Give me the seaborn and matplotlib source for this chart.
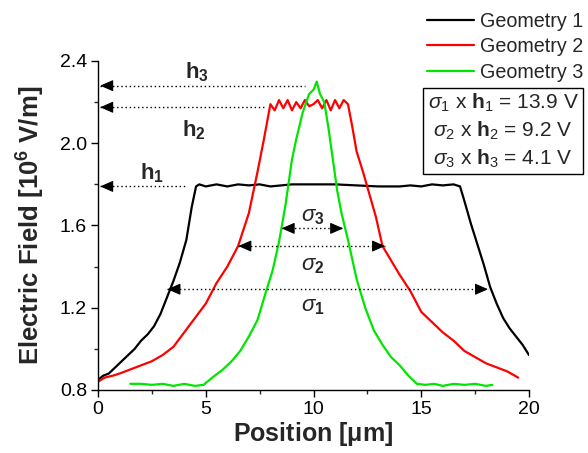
import matplotlib
matplotlib.use("Agg")
import matplotlib.pyplot as plt
import seaborn as sns
import pandas as pd
from matplotlib.ticker import MultipleLocator

# ---------------- data ----------------
g1_x = [0, 0.25, 0.5, 0.8, 1.1, 1.4, 1.7, 2.0, 2.3, 2.6, 2.9, 3.2, 3.5, 3.8, 4.1, 4.35, 4.55,
        4.7, 5.0, 5.5, 6.0, 6.5, 7.0, 7.5, 8.0, 9.0, 10.0, 11.0, 12.0, 13.0, 14.0, 14.5, 15.0,
        15.5, 16.0, 16.5, 16.8, 17.0, 17.3, 17.6, 17.9, 18.2, 18.5, 18.8, 19.1, 19.4, 19.7, 20.0]
g1_y = [0.85, 0.87, 0.88, 0.91, 0.94, 0.97, 1.00, 1.04, 1.07, 1.11, 1.17, 1.25, 1.33, 1.42, 1.53, 1.69, 1.79,
        1.80, 1.79, 1.80, 1.79, 1.80, 1.795, 1.80, 1.79, 1.80, 1.80, 1.80, 1.795, 1.79, 1.79, 1.795, 1.79,
        1.80, 1.795, 1.80, 1.79, 1.72, 1.61, 1.51, 1.41, 1.30, 1.22, 1.15, 1.10, 1.06, 1.02, 0.97]

g2_x = [0, 0.3, 0.7, 1.0, 1.5, 2.0, 2.5, 3.0, 3.5, 4.0, 4.5, 5.0, 5.5, 6.0, 6.5, 7.0, 7.4, 7.7,
        8.0, 8.2, 8.4, 8.6, 8.8, 9.0, 9.2, 9.4, 9.6, 9.8, 10.0, 10.2, 10.4, 10.6, 10.8, 11.0, 11.2,
        11.4, 11.6, 11.8, 12.0, 12.3, 12.6, 12.9, 13.2, 13.6, 14.0, 14.5, 15.0, 15.5, 16.0, 16.5,
        17.0, 17.5, 18.0, 18.5, 19.0, 19.5]
g2_y = [0.84, 0.86, 0.87, 0.88, 0.90, 0.92, 0.94, 0.97, 1.01, 1.08, 1.15, 1.22, 1.32, 1.40, 1.50, 1.66, 1.86, 2.02,
        2.19, 2.16, 2.21, 2.17, 2.21, 2.16, 2.20, 2.17, 2.21, 2.18, 2.19, 2.21, 2.17, 2.21, 2.16, 2.21, 2.17,
        2.21, 2.19, 2.08, 1.96, 1.86, 1.75, 1.64, 1.50, 1.43, 1.36, 1.28, 1.18, 1.13, 1.08, 1.04,
        0.99, 0.96, 0.93, 0.91, 0.89, 0.86]

g3_x = [1.5, 2.0, 2.5, 3.0, 3.5, 4.0, 4.5, 4.9, 5.3, 5.8, 6.2, 6.6, 7.0, 7.4, 7.8, 8.1, 8.4, 8.7,
        9.0, 9.2, 9.5, 9.8, 10.0, 10.15, 10.3, 10.5, 10.7, 10.9, 11.1, 11.3, 11.6, 12.0, 12.4, 12.8,
        13.2, 13.6, 14.0, 14.4, 14.8, 15.2, 15.6, 16.0, 16.5, 17.0, 17.5, 18.0, 18.3]
g3_y = [0.83, 0.83, 0.825, 0.83, 0.82, 0.83, 0.82, 0.825, 0.86, 0.90, 0.94, 0.99, 1.06, 1.14, 1.28, 1.38, 1.52, 1.70,
        1.92, 2.02, 2.15, 2.24, 2.26, 2.30, 2.24, 2.20, 2.07, 1.92, 1.77, 1.66, 1.53, 1.34, 1.20, 1.09,
        1.02, 0.96, 0.92, 0.87, 0.83, 0.825, 0.83, 0.82, 0.83, 0.825, 0.83, 0.82, 0.825]

series_names = ["Geometry 1", "Geometry 2", "Geometry 3"]
series_colors = ["#000000", "#ff0000", "#00e600"]

h_levels = [1.79, 2.175, 2.28]          # h1, h2, h3
h_line_ends = [4.1, 7.7, 9.6]
sigma_levels = [1.29, 1.50, 1.586]      # sigma1, sigma2, sigma3
sigma_left = [3.22, 6.51, 8.52]
sigma_right = [18.1, 13.32, 11.38]
products = ["13.9", "9.2", "4.1"]

# ---------------- figure ----------------
sns.set_theme(style="ticks")
plt.rcParams["font.family"] = ["Liberation Sans", "DejaVu Sans"]
plt.rcParams["mathtext.fontset"] = "custom"
plt.rcParams["mathtext.rm"] = "Liberation Sans"
plt.rcParams["mathtext.it"] = "Liberation Sans:italic"
plt.rcParams["mathtext.bf"] = "Liberation Sans:bold"

frames = []
for name, xs, ys in zip(series_names, [g1_x, g2_x, g3_x], [g1_y, g2_y, g3_y]):
    frames.append(pd.DataFrame({"Position": xs, "Field": ys, "Geometry": name}))
df = pd.concat(frames, ignore_index=True)

fig = plt.figure(figsize=(5.88, 4.53), dpi=100)
ax = fig.add_axes([98 / 588, 1 - 390 / 453, (529 - 98) / 588, (390 - 61) / 453])

sns.lineplot(data=df, x="Position", y="Field", hue="Geometry", hue_order=series_names,
             palette=series_colors, estimator=None, sort=False, linewidth=1.6, ax=ax)
handles, labels = ax.get_legend_handles_labels()
ax.get_legend().remove()

ax.set_xlim(0, 20)
ax.set_ylim(0.8, 2.4)
ax.xaxis.set_major_locator(MultipleLocator(5))
ax.xaxis.set_minor_locator(MultipleLocator(2.5))
ax.yaxis.set_major_locator(MultipleLocator(0.4))
ax.yaxis.set_minor_locator(MultipleLocator(0.2))
ax.yaxis.set_major_formatter(matplotlib.ticker.FormatStrFormatter("%.1f"))
ax.tick_params(which="major", direction="out", length=5, width=1, labelsize=14, colors="black", pad=3)
ax.tick_params(which="minor", direction="out", length=3, width=1)
for side in ["top", "right"]:
    ax.spines[side].set_visible(False)
for side in ["left", "bottom"]:
    ax.spines[side].set_color("black")
    ax.spines[side].set_linewidth(1.0)

ax.set_xlabel(r"Position [$\mathbf{\mu}$m]", fontsize=18, fontweight="bold", labelpad=1)
ax.set_ylabel(r"Electric Field [10$^{\mathbf{6}}$ V/m]", fontsize=18.5, fontweight="bold", labelpad=9)

head = dict(arrowstyle="-|>,head_length=0.8,head_width=0.35", color="black",
            lw=0.8, mutation_scale=10, shrinkA=0, shrinkB=0)

# h arrows (to the y axis)
for lvl, xe in zip(h_levels, h_line_ends):
    ax.plot([0.1, xe], [lvl, lvl], linestyle=(0, (1, 2)), color="black", lw=1.0)
    ax.annotate("", xy=(0.1, lvl), xytext=(0.6, lvl), arrowprops=head)

# sigma double arrows
for lvl, xl, xr in zip(sigma_levels, sigma_left, sigma_right):
    ax.plot([xl, xr], [lvl, lvl], linestyle=(0, (1, 2)), color="black", lw=1.0)
    ax.annotate("", xy=(xl, lvl), xytext=(xl + 0.5, lvl), arrowprops=head)
    ax.annotate("", xy=(xr, lvl), xytext=(xr - 0.5, lvl), arrowprops=head)

# labels
ax.text(2.5, 1.855, r"$\mathbf{h}_\mathbf{1}$", fontsize=16, ha="center", va="center")
ax.text(4.45, 2.065, r"$\mathbf{h}_\mathbf{2}$", fontsize=16, ha="center", va="center")
ax.text(4.6, 2.345, r"$\mathbf{h}_\mathbf{3}$", fontsize=16, ha="center", va="center")
ax.text(9.95, 1.645, r"$\sigma_\mathbf{3}$", fontsize=16, ha="center", va="center")
ax.text(9.95, 1.405, r"$\sigma_\mathbf{2}$", fontsize=16, ha="center", va="center")
ax.text(9.95, 1.205, r"$\sigma_\mathbf{1}$", fontsize=16, ha="center", va="center")

# legend outside top right
fig.legend(handles, labels, loc="upper left", bbox_to_anchor=(423 / 588, 1 - 8 / 453),
           frameon=False, fontsize=14.2, handlelength=2.4, handletextpad=0.3,
           labelspacing=0.32, borderaxespad=0, borderpad=0.2)

# product box
box_text = "\n".join(
    [rf"$\sigma_{i + 1}$ x $\mathbf{{h}}_{i + 1}$ = {p} V" for i, p in enumerate(products)])
fig.text(503 / 588, 1 - 131 / 453, box_text, fontsize=15, ha="center", va="center",
         linespacing=1.32,
         bbox=dict(boxstyle="square,pad=0.2", fc="white", ec="black", lw=1.0))

fig.savefig("out.png", dpi=100)
